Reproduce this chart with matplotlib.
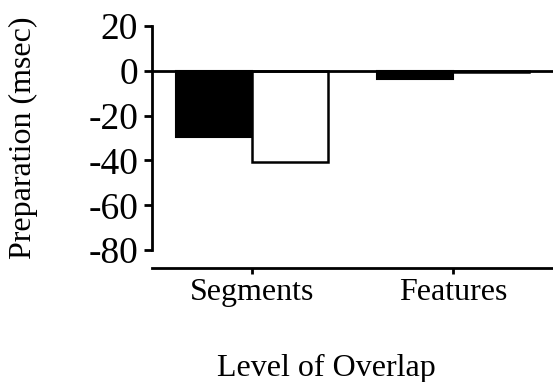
import matplotlib
matplotlib.use("Agg")
import matplotlib.pyplot as plt
import numpy as np

categories = ["Segments", "Features"]
series_black = [-29.5, -3.5]
series_white = [-40.5, -0.5]
yticks = [20, 0, -20, -40, -60, -80]

plt.rcParams['font.family'] = ['Liberation Serif', 'DejaVu Serif']

fig = plt.figure(figsize=(5.53, 3.82), dpi=100)
ax = fig.add_axes([0.275, 0.2984, 0.725, 0.6336])

x = np.arange(len(categories))
w = 0.38
ax.bar(x - w/2, series_black, width=w, color='black', edgecolor='black', linewidth=1.5)
ax.bar(x + w/2, series_white, width=w, color='white', edgecolor='black', linewidth=1.8)
ax.axhline(0, color='black', lw=2, zorder=3)

ax.set_xlim(-0.5, 1.5)
ax.set_ylim(-88, 20)
ax.set_yticks(yticks)
ax.set_yticklabels([str(v) for v in yticks], fontsize=27)
ax.set_xticks(x)
ax.set_xticklabels(categories, fontsize=23)

for s in ['top', 'right']:
    ax.spines[s].set_visible(False)
ax.spines['left'].set_bounds(-80, 20)
ax.spines['left'].set_linewidth(2)
ax.spines['bottom'].set_linewidth(2)
ax.tick_params(axis='y', length=6, width=2, pad=4)
ax.tick_params(axis='x', length=4, width=2, pad=3)

ax.set_ylabel("Preparation (msec)", fontsize=23, va='center')
ax.yaxis.set_label_coords(-0.32, 0.5372)
ax.set_xlabel("Level of Overlap", fontsize=23, va='center')
ax.xaxis.set_label_coords(0.434, -0.415)

fig.savefig("out.png", dpi=100)
